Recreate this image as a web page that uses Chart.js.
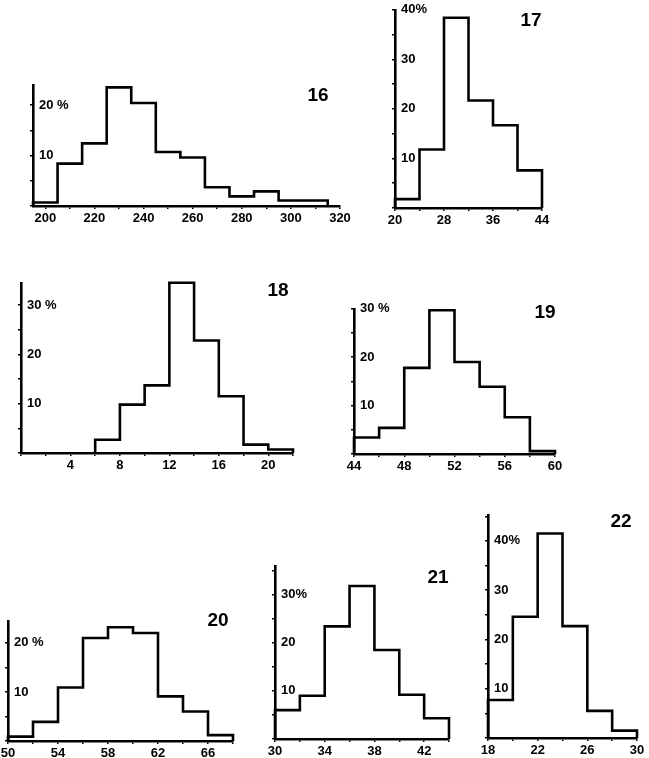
<!DOCTYPE html>
<html>
<head>
<meta charset="utf-8">
<script src="https://cdn.jsdelivr.net/npm/chart.js@4"></script>
<style>
  html, body { margin: 0; padding: 0; background: #fff; }
  body { width: 649px; height: 758px; position: relative; overflow: hidden; }
  canvas { position: absolute; }
  .num { position: absolute; font: bold 19px "Liberation Sans", Arial, sans-serif; color: #000; transform: translate(-50%, -50%); }
</style>
</head>
<body>
<script>
// 各直方图的数据: 组界、百分比、带标签的刻度
const edges16 = [195, 205, 215, 225, 235, 245, 255, 265, 275, 285, 295, 315];
const freq16 = [0.7, 8.4, 12.4, 23.5, 20.4, 10.7, 9.6, 3.7, 1.9, 2.9, 1.1];
const xTicks16 = [200, 220, 240, 260, 280, 300, 320];
const yTicks16 = [10, 20];

const edges17 = [20, 24, 28, 32, 36, 40, 44];
const freq17 = [1.8, 11.8, 38.4, 21.7, 16.7, 7.6];
const xTicks17 = [20, 28, 36, 44];
const yTicks17 = [10, 20, 30, 40];

const edges18 = [6, 8, 10, 12, 14, 16, 18, 20, 22];
const freq18 = [2.7, 9.8, 13.7, 34.5, 22.8, 11.5, 1.7, 0.7];
const xTicks18 = [4, 8, 12, 16, 20];
const yTicks18 = [10, 20, 30];

const edges19 = [44, 46, 48, 50, 52, 54, 56, 58, 60];
const freq19 = [3.4, 5.4, 17.8, 29.7, 19.0, 13.9, 7.6, 0.6];
const xTicks19 = [44, 48, 52, 56, 60];
const yTicks19 = [10, 20, 30];

const edges20 = [50, 52, 54, 56, 58, 60, 62, 64, 66, 68];
const freq20 = [0.9, 3.9, 10.9, 21.0, 23.2, 22.0, 9.1, 6.0, 1.2];
const xTicks20 = [50, 54, 58, 62, 66];
const yTicks20 = [10, 20];

const edges21 = [30, 32, 34, 36, 38, 40, 42, 44];
const freq21 = [6.0, 9.0, 23.4, 31.8, 18.5, 9.2, 4.3];
const xTicks21 = [30, 34, 38, 42];
const yTicks21 = [10, 20, 30];

const edges22 = [18, 20, 22, 24, 26, 28, 30];
const freq22 = [7.7, 24.6, 41.5, 22.7, 5.5, 1.5];
const xTicks22 = [18, 22, 26, 30];
const yTicks22 = [10, 20, 30, 40];

// 版面: 坐标轴在页面上的位置 (L, R, T, B)
const panels = [
    { name: '16', edges: edges16, freq: freq16, xTicks: xTicks16, yTicks: yTicks16, unit: ' %',
      L: 33, R: 340, T: 83, B: 206, xmin: 195, xmax: 320, xStep: 10, ymax: 24, numX: 318, numY: 95 },
    { name: '17', edges: edges17, freq: freq17, xTicks: xTicks17, yTicks: yTicks17, unit: '%',
      L: 395, R: 542, T: 8, B: 208, xmin: 20, xmax: 44, xStep: 4, ymax: 40, numX: 531, numY: 20 },
    { name: '18', edges: edges18, freq: freq18, xTicks: xTicks18, yTicks: yTicks18, unit: ' %',
      L: 21, R: 293, T: 281, B: 453, xmin: 0, xmax: 22, xStep: 2, ymax: 34.5, numX: 278, numY: 290 },
    { name: '19', edges: edges19, freq: freq19, xTicks: xTicks19, yTicks: yTicks19, unit: ' %',
      L: 354, R: 555, T: 307, B: 454, xmin: 44, xmax: 60, xStep: 2, ymax: 30, numX: 545, numY: 312 },
    { name: '20', edges: edges20, freq: freq20, xTicks: xTicks20, yTicks: yTicks20, unit: ' %',
      L: 8, R: 233, T: 619, B: 741, xmin: 50, xmax: 68, xStep: 2, ymax: 24.5, numX: 218, numY: 620 },
    { name: '21', edges: edges21, freq: freq21, xTicks: xTicks21, yTicks: yTicks21, unit: '%',
      L: 275, R: 449, T: 564, B: 739, xmin: 30, xmax: 44, xStep: 2, ymax: 36, numX: 438, numY: 577 },
    { name: '22', edges: edges22, freq: freq22, xTicks: xTicks22, yTicks: yTicks22, unit: '%',
      L: 488, R: 637, T: 513, B: 738, xmin: 18, xmax: 30, xStep: 2, ymax: 45.3, numX: 621, numY: 521 }
];

const PAD = { left: 22, right: 24, top: 12, bottom: 4 };
const Y_W = 4;
const X_H = 22;

Chart.defaults.font.family = '"Liberation Sans", Arial, sans-serif';
Chart.defaults.font.weight = 'bold';
Chart.defaults.font.size = 13;
Chart.defaults.color = '#000';

// 阶梯线: 从基线起, 到最后一组右界回到基线
function outline(edges, freq) {
    const pts = [{ x: edges[0], y: 0 }];
    freq.forEach((v, i) => pts.push({ x: edges[i], y: v }));
    pts.push({ x: edges[edges.length - 1], y: 0 });
    return pts;
}

function makePanel(p) {
    const canvas = document.createElement('canvas');
    const w = (p.R - p.L) + Y_W + PAD.left + PAD.right;
    const h = (p.B - p.T) + X_H + PAD.top + PAD.bottom;
    canvas.width = w;
    canvas.height = h;
    canvas.style.width = w + 'px';
    canvas.style.height = h + 'px';
    canvas.style.left = (p.L - Y_W - PAD.left) + 'px';
    canvas.style.top = (p.T - PAD.top) + 'px';
    document.body.appendChild(canvas);

    const lastY = p.yTicks[p.yTicks.length - 1];

    new Chart(canvas.getContext('2d'), {
        type: 'line',
        data: {
            datasets: [{
                data: outline(p.edges, p.freq),
                stepped: true,
                borderColor: '#000',
                borderWidth: 2.6,
                pointRadius: 0,
                fill: false,
                clip: false
            }]
        },
        options: {
            responsive: false,
            animation: false,
            events: [],
            layout: { padding: PAD },
            plugins: { legend: { display: false }, tooltip: { enabled: false } },
            scales: {
                x: {
                    type: 'linear',
                    min: p.xmin,
                    max: p.xmax,
                    afterFit: (s) => { s.height = X_H; },
                    grid: { drawOnChartArea: false, tickLength: 3, color: '#000', lineWidth: 1.5 },
                    border: { color: '#000', width: 2.6 },
                    ticks: {
                        stepSize: p.xStep,
                        includeBounds: false,
                        autoSkip: false,
                        maxRotation: 0,
                        padding: 2,
                        callback: (v) => p.xTicks.includes(v) ? String(v) : ''
                    }
                },
                y: {
                    min: 0,
                    max: p.ymax,
                    afterFit: (s) => { s.width = Y_W; },
                    grid: { drawOnChartArea: false, tickLength: 3, color: '#000', lineWidth: 1.5 },
                    border: { color: '#000', width: 2.6 },
                    ticks: {
                        stepSize: 5,
                        includeBounds: false,
                        mirror: true,
                        padding: 6,
                        callback: (v) => {
                            if (!p.yTicks.includes(v)) return '';
                            return v === lastY ? v + p.unit : String(v);
                        }
                    }
                }
            }
        }
    });

    const num = document.createElement('div');
    num.className = 'num';
    num.textContent = p.name;
    num.style.left = p.numX + 'px';
    num.style.top = p.numY + 'px';
    document.body.appendChild(num);
}

panels.forEach(makePanel);
</script>
</body>
</html>
